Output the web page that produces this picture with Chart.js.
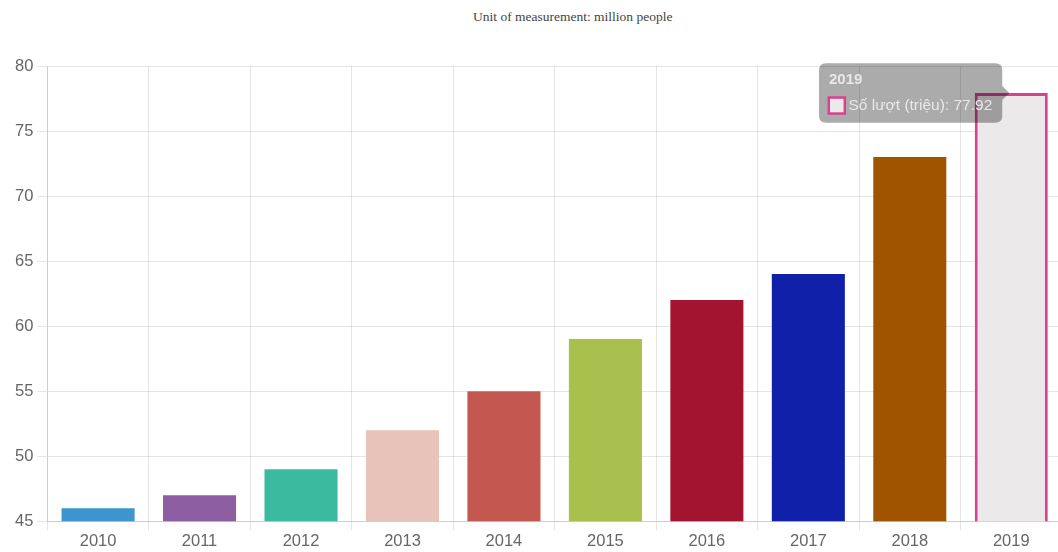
<!DOCTYPE html>
<html>
<head>
<meta charset="utf-8">
<script src="https://cdn.jsdelivr.net/npm/chart.js@4.4.0/dist/chart.umd.min.js"></script>
<style>
  html, body { margin: 0; padding: 0; background: #fff; overflow: hidden; }
  #wrap { position: relative; width: 1058px; height: 552px; overflow: hidden; }
  #unit {
    position: absolute; left: 473px; top: 9px;
    font-family: 'Liberation Serif', serif; font-size: 13.5px; color: #444;
    white-space: nowrap;
  }
  #visitsChart { position: absolute; left: 0; top: 0; }
</style>
</head>
<body>
<div id="wrap">
  <div id="unit">Unit of measurement: million people</div>
  <canvas id="visitsChart" width="1066" height="552"></canvas>
</div>
<script>
const years = ['2010', '2011', '2012', '2013', '2014', '2015', '2016', '2017', '2018', '2019'];
const visits = [46, 47, 49, 52, 55, 59, 62, 64, 73, 77.92];
const barColors = ['#3e95cd', '#8e5ea2', '#3cba9f', '#e8c3b9', '#c45850',
                   '#a9c04f', '#a2142f', '#1120a8', '#a05400', '#ece9ea'];
const barBorders = ['#3e95cd', '#8e5ea2', '#3cba9f', '#e8c3b9', '#c45850',
                    '#a9c04f', '#a2142f', '#1120a8', '#a05400', '#d9408f'];
const yTicks = [45, 50, 55, 60, 65, 70, 75, 80];

const tickFont = { family: 'Liberation Sans', size: 16.5 };

const ctx = document.getElementById('visitsChart').getContext('2d');
const chart = new Chart(ctx, {
    type: 'bar',
    data: {
        labels: years,
        datasets: [{
            label: 'Số lượt (triệu)',
            data: visits,
            backgroundColor: barColors,
            borderColor: barBorders,
            borderWidth: years.map((y, i) => i === years.length - 1 ? 3 : 0)
        }]
    },
    options: {
        responsive: false,
        animation: false,
        layout: { padding: { left: 11, right: 4, top: 66, bottom: 0 } },
        plugins: {
            legend: { display: false },
            tooltip: {
                enabled: true,
                backgroundColor: 'rgba(0,0,0,0.33)',
                titleColor: '#e8e8e8',
                bodyColor: '#e8e8e8',
                titleFont: { family: 'Liberation Sans', size: 15, weight: 'bold' },
                bodyFont: { family: 'Liberation Sans', size: 15.5 },
                padding: { x: 10, y: 8 },
                titleMarginBottom: 7,
                boxPadding: 2,
                cornerRadius: 7,
                caretSize: 7,
                xAlign: 'right',
                yAlign: 'center',
                callbacks: {
                    label: (item) => item.dataset.label + ': ' + item.parsed.y
                }
            }
        },
        scales: {
            x: {
                grid: { color: 'rgba(0,0,0,0.1)', offset: true, tickLength: 9 },
                ticks: { color: '#666', font: tickFont, padding: 1 }
            },
            y: {
                min: 45,
                max: 80,
                afterBuildTicks: (axis) => { axis.ticks = yTicks.map(v => ({ value: v })); },
                grid: { color: 'rgba(0,0,0,0.1)', tickLength: 10 },
                ticks: { color: '#666', font: tickFont, padding: 4 }
            }
        }
    }
});

// hovered 2019 bar with its tooltip
const last = years.length - 1;
const bar = chart.getDatasetMeta(0).data[last];
chart.tooltip.setActiveElements([{ datasetIndex: 0, index: last }], { x: bar.x, y: bar.y });
chart.update();
</script>
</body>
</html>
